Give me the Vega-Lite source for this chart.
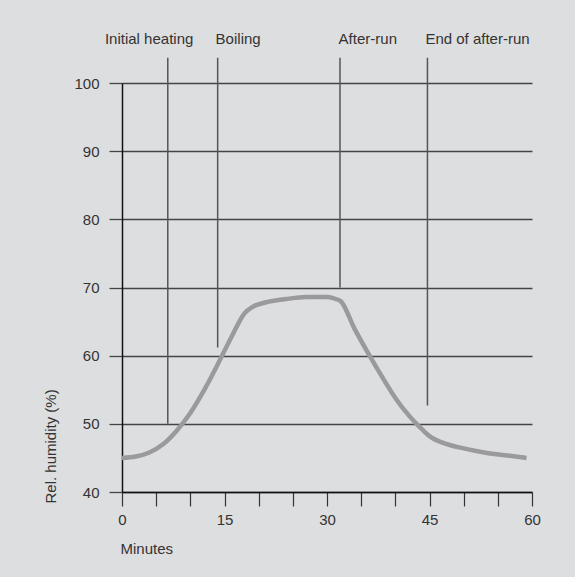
{
  "$schema": "https://vega.github.io/schema/vega-lite/v6.json",
  "autosize": "none",
  "width": 410,
  "height": 409,
  "padding": {"left": 122, "top": 83, "right": 43, "bottom": 85},
  "background": "#dddee0",
  "config": {
    "view": {"stroke": null},
    "font": "Liberation Sans",
    "axis": {"labelFont": "Liberation Sans", "titleFont": "Liberation Sans", "labelColor": "#333333", "titleColor": "#333333", "labelFontSize": 15, "titleFontSize": 15, "titleFontWeight": "normal"}
  },
  "datasets": {
    "curve": [
      {"t": 0, "rh": 45.0}, {"t": 2, "rh": 45.2}, {"t": 4, "rh": 45.8}, {"t": 6, "rh": 47.0},
      {"t": 8, "rh": 49.0}, {"t": 10, "rh": 51.6}, {"t": 12, "rh": 54.9}, {"t": 14, "rh": 58.7},
      {"t": 16, "rh": 62.7}, {"t": 18, "rh": 66.3}, {"t": 19, "rh": 67.1}, {"t": 21, "rh": 67.8},
      {"t": 24, "rh": 68.3}, {"t": 27, "rh": 68.6}, {"t": 30, "rh": 68.6}, {"t": 31, "rh": 68.4},
      {"t": 32, "rh": 68.0}, {"t": 34, "rh": 64.0}, {"t": 36, "rh": 60.4}, {"t": 38, "rh": 57.0},
      {"t": 40, "rh": 53.8}, {"t": 42, "rh": 51.2}, {"t": 43, "rh": 50.1}, {"t": 44, "rh": 49.1},
      {"t": 45, "rh": 48.2}, {"t": 47, "rh": 47.2}, {"t": 50, "rh": 46.4}, {"t": 53, "rh": 45.8},
      {"t": 56, "rh": 45.4}, {"t": 59.2, "rh": 45.0}
    ],
    "phases": [
      {"phase": "Initial heating", "t": 6.7, "top": 103.7, "bottom": 50, "labelT": -2.5, "labelY": 106.4},
      {"phase": "Boiling", "t": 14.0, "top": 103.7, "bottom": 61.2, "labelT": 13.7, "labelY": 106.4},
      {"phase": "After-run", "t": 31.9, "top": 103.7, "bottom": 70, "labelT": 31.7, "labelY": 106.4},
      {"phase": "End of after-run", "t": 44.7, "top": 103.7, "bottom": 52.7, "labelT": 44.4, "labelY": 106.4}
    ]
  },
  "layer": [
    {
      "data": {"name": "curve"},
      "mark": {"type": "line", "color": "#9a9a9c", "strokeWidth": 4.5, "interpolate": "monotone", "strokeCap": "butt"},
      "encoding": {
        "x": {
          "field": "t", "type": "quantitative",
          "scale": {"domain": [0, 60], "nice": false, "zero": false},
          "axis": {
            "values": [0, 5, 10, 15, 20, 25, 30, 35, 40, 45, 50, 55, 60],
            "labelExpr": "datum.value % 15 === 0 ? datum.label : ''",
            "labelOverlap": false,
            "grid": false, "domainColor": "#111111", "domainWidth": 1.5,
            "tickColor": "#333333", "tickWidth": 1.2, "tickSize": 14,
            "labelPadding": 6, "labelFlush": false,
            "title": "Minutes", "titleAnchor": "start", "titleAlign": "left", "titleBaseline": "middle",
            "titleX": -2, "titleY": 56
          }
        },
        "y": {
          "field": "rh", "type": "quantitative",
          "scale": {"domain": [40, 100], "nice": false, "zero": false},
          "axis": {
            "values": [40, 50, 60, 70, 80, 90, 100],
            "grid": true, "gridColor": "#444444", "gridWidth": 1.3, "gridOpacity": 1,
            "domainColor": "#111111", "domainWidth": 1.5,
            "tickColor": "#444444", "tickWidth": 1.3, "tickSize": 13,
            "labelPadding": 10, "labelFlush": false, "labelOverlap": false,
            "title": "Rel. humidity (%)", "titleAngle": 270, "titleAnchor": "start", "titleAlign": "left",
            "titleBaseline": "middle", "titleX": -72, "titleY": 420
          }
        }
      }
    },
    {
      "data": {"name": "phases"},
      "mark": {"type": "rule", "color": "#555555", "strokeWidth": 1.5},
      "encoding": {
        "x": {"field": "t", "type": "quantitative",
          "axis": {
            "values": [0, 5, 10, 15, 20, 25, 30, 35, 40, 45, 50, 55, 60],
            "labelExpr": "datum.value % 15 === 0 ? datum.label : ''",
            "labelOverlap": false,
            "grid": false, "domainColor": "#111111", "domainWidth": 1.5,
            "tickColor": "#333333", "tickWidth": 1.2, "tickSize": 14,
            "labelPadding": 6, "labelFlush": false,
            "title": "Minutes", "titleAnchor": "start", "titleAlign": "left", "titleBaseline": "middle",
            "titleX": -2, "titleY": 56
          }},
        "y": {"field": "top", "type": "quantitative",
          "axis": {
            "values": [40, 50, 60, 70, 80, 90, 100],
            "grid": true, "gridColor": "#444444", "gridWidth": 1.3, "gridOpacity": 1,
            "domainColor": "#111111", "domainWidth": 1.5,
            "tickColor": "#444444", "tickWidth": 1.3, "tickSize": 13,
            "labelPadding": 10, "labelFlush": false, "labelOverlap": false,
            "title": "Rel. humidity (%)", "titleAngle": 270, "titleAnchor": "start", "titleAlign": "left",
            "titleBaseline": "middle", "titleX": -72, "titleY": 420
          }},
        "y2": {"field": "bottom"}
      }
    },
    {
      "data": {"name": "phases"},
      "mark": {"type": "text", "align": "left", "baseline": "middle", "fontSize": 15, "color": "#333333", "font": "Liberation Sans"},
      "encoding": {
        "x": {"field": "labelT", "type": "quantitative",
          "axis": {
            "values": [0, 5, 10, 15, 20, 25, 30, 35, 40, 45, 50, 55, 60],
            "labelExpr": "datum.value % 15 === 0 ? datum.label : ''",
            "labelOverlap": false,
            "grid": false, "domainColor": "#111111", "domainWidth": 1.5,
            "tickColor": "#333333", "tickWidth": 1.2, "tickSize": 14,
            "labelPadding": 6, "labelFlush": false,
            "title": "Minutes", "titleAnchor": "start", "titleAlign": "left", "titleBaseline": "middle",
            "titleX": -2, "titleY": 56
          }},
        "y": {"field": "labelY", "type": "quantitative",
          "axis": {
            "values": [40, 50, 60, 70, 80, 90, 100],
            "grid": true, "gridColor": "#444444", "gridWidth": 1.3, "gridOpacity": 1,
            "domainColor": "#111111", "domainWidth": 1.5,
            "tickColor": "#444444", "tickWidth": 1.3, "tickSize": 13,
            "labelPadding": 10, "labelFlush": false, "labelOverlap": false,
            "title": "Rel. humidity (%)", "titleAngle": 270, "titleAnchor": "start", "titleAlign": "left",
            "titleBaseline": "middle", "titleX": -72, "titleY": 420
          }},
        "text": {"field": "phase"}
      }
    }
  ]
}
